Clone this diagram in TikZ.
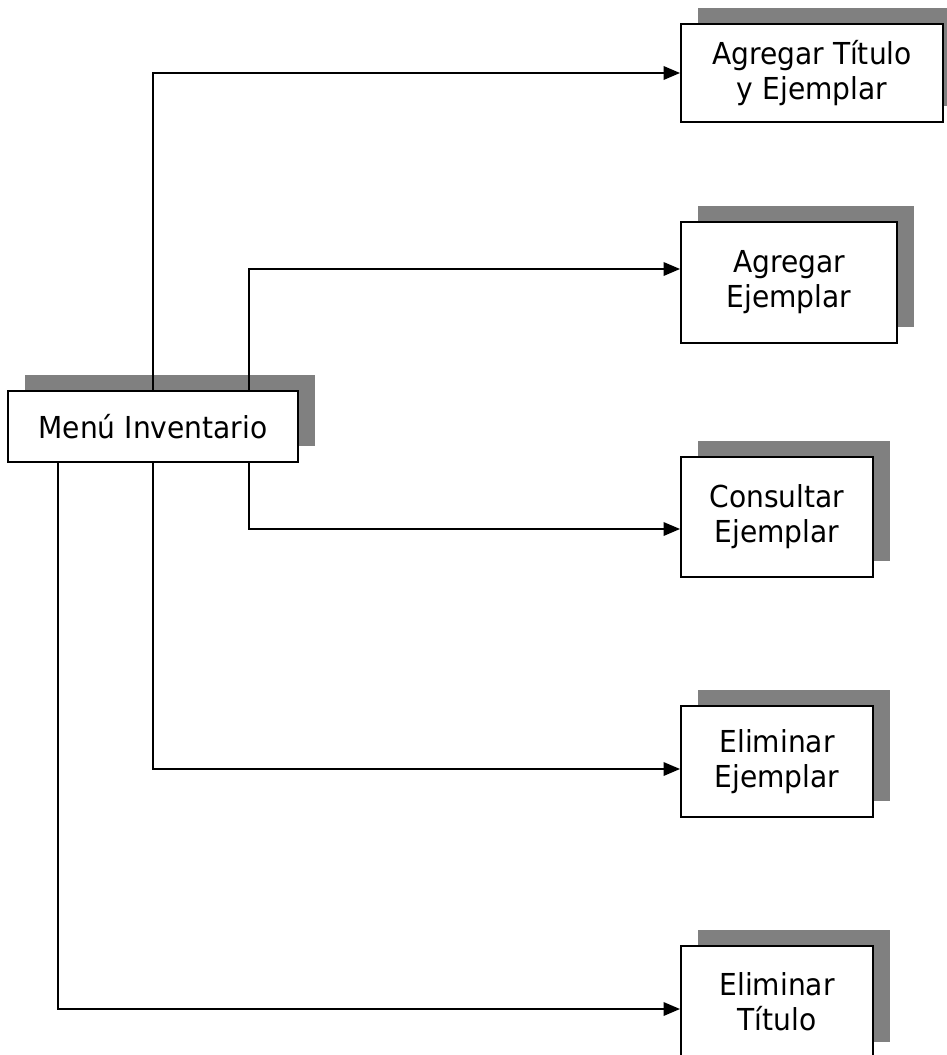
\documentclass[tikz,border=0pt]{standalone}
\usepackage{fontspec}
\setmainfont{DejaVu Sans}[FakeStretch=0.93]
\usetikzlibrary{arrows.meta,shadows}
\definecolor{sombra}{RGB}{128,128,128}

\begin{document}
\begin{tikzpicture}[line width=1.1pt,
            caja/.style = {rectangle, draw, fill=white,
                align=center,
                font=\fontsize{17.2}{19.9}\selectfont,
                general shadow={fill=sombra, shadow xshift=0.33cm, shadow yshift=0.33cm},
                },
            flecha/.style = {-{Triangle[length=0.33cm,width=0.27cm]}}]

        \useasboundingbox (0,0) rectangle (18.94,-21.10);

        % Menu principal
        \node[caja,minimum width=5.8cm,minimum height=1.42cm] (menu) at (3.06,-8.53) {Menú Inventario};

        % Opciones
        \node[caja,minimum width=5.24cm,minimum height=1.96cm] (titulo) at (16.24,-1.46) {Agregar Título\\y Ejemplar};
        \node[caja,minimum width=4.32cm,minimum height=2.42cm] (agregar) at (15.78,-5.65) {Agregar\\Ejemplar};
        \node[caja,minimum width=3.84cm,minimum height=2.40cm] (consultar) at (15.54,-10.34) {Consultar\\Ejemplar};
        \node[caja,minimum width=3.84cm,minimum height=2.22cm] (eliminar) at (15.54,-15.23) {Eliminar\\Ejemplar};
        \node[caja,minimum width=3.84cm,minimum height=2.24cm] (eliminarT) at (15.54,-20.04) {Eliminar\\Título};

        % Conexiones
        \draw[flecha] (menu.north) |- (titulo.west);
        \draw[flecha] ([xshift=1.92cm]menu.north) |- ([yshift=0.27cm]agregar.west);
        \draw[flecha] ([xshift=1.92cm]menu.south) |- ([yshift=-0.24cm]consultar.west);
        \draw[flecha] (menu.south) |- ([yshift=-0.15cm]eliminar.west);
        \draw[flecha] ([xshift=-1.9cm]menu.south) |- ([yshift=-0.14cm]eliminarT.west);

\end{tikzpicture}
\end{document}
